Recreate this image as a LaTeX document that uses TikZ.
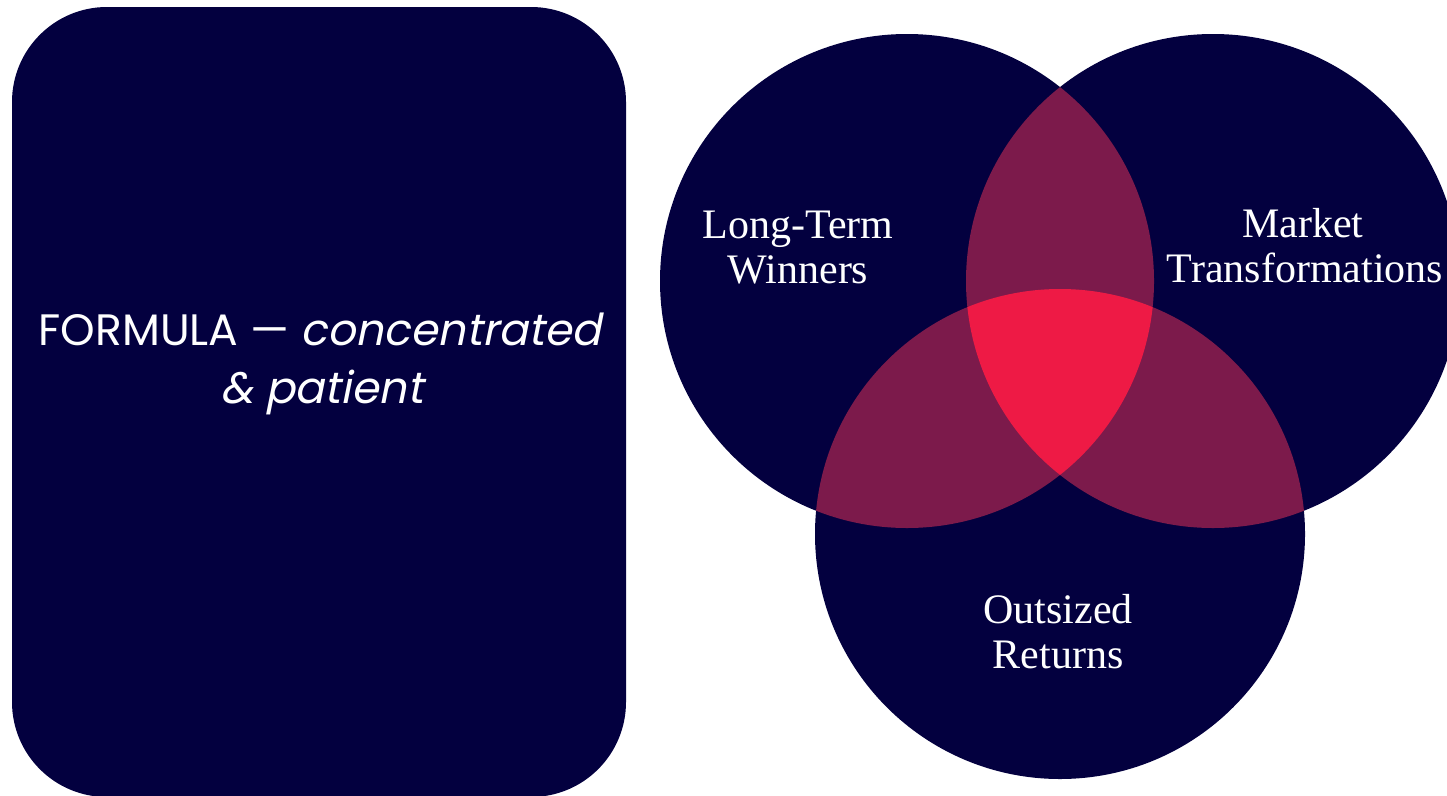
\documentclass[tikz,border=0pt]{standalone}
\usepackage{fontspec}
\setmainfont{Liberation Serif}
\newfontfamily\futura{Poppins}
\newfontfamily\futuraslant[FakeSlant=0.2]{Poppins}
\definecolor{navy}{HTML}{03003F}
\definecolor{duo}{HTML}{7C1A4B}
\definecolor{trio}{HTML}{EE1A45}
\begin{document}
\begin{tikzpicture}[x=1pt,y=-1pt,
  vlabel/.style={text=white,font=\fontsize{42}{45}\selectfont,inner sep=0pt,anchor=base},
  flabel/.style={text=white,font=\futura\fontsize{44}{58}\selectfont,inner sep=0pt,anchor=base}]
\useasboundingbox (0,0) rectangle (1447,795);
% left panel
\fill[navy, rounded corners=95pt] (12,7) rectangle (626,797);
\node[flabel] (f1) at (320,345) {FORMULA — {\futuraslant concentrated}};
\node[flabel] (f2) at (322,403) {\futuraslant \& patient};
% venn
\def\cL{(907,281) circle[radius=247pt]}
\def\cR{(1213,281) circle[radius=247pt]}
\def\cB{(1060,534) circle[radius=245pt]}
\fill[navy] \cL;
\fill[navy] \cR;
\fill[navy] \cB;
\begin{scope}\clip \cL; \fill[duo] \cR; \fill[duo] \cB; \end{scope}
\begin{scope}\clip \cR; \fill[duo] \cB; \end{scope}
\begin{scope}\clip \cL; \clip \cR; \fill[trio] \cB; \end{scope}
\node[vlabel] (lt1) at (798,238) {Long-Term};
\node[vlabel] (lt2) at (798,283) {Winners};
\node[vlabel] (mt1) at (1303,237) {Market};
\node[vlabel] (mt2) at (1305,282) {Transformations};
\node[vlabel] (or1) at (1058,623) {Outsized};
\node[vlabel] (or2) at (1058,668) {Returns};
\end{tikzpicture}
\end{document}
